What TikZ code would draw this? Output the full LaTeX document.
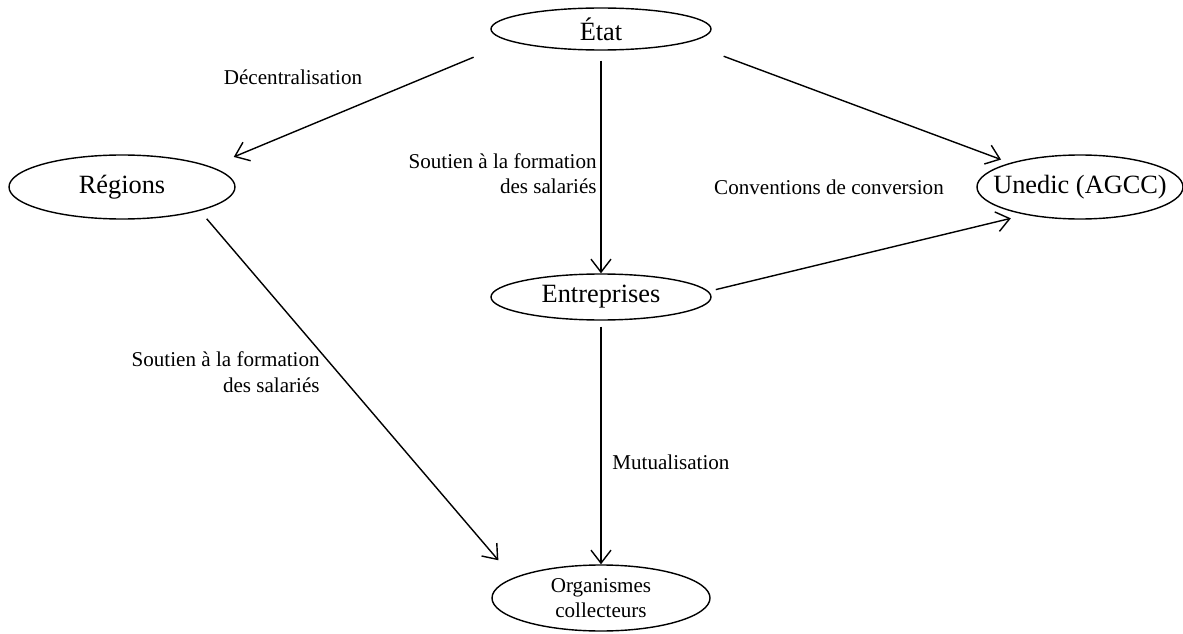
\documentclass[tikz,border=0pt]{standalone}
\usepackage{fontspec}
\setmainfont{Liberation Serif}
\usetikzlibrary{arrows.meta, positioning, shapes.geometric}

\begin{document}
\begin{tikzpicture}[
    actor/.style={draw, ellipse, line width=0.8pt, inner sep=0pt},
    link/.style={-{Straight Barb[length=2.6mm, width=4mm]}, line width=0.8pt},
    lbl/.style={font=\fontsize{12}{14.5}\selectfont, inner sep=0pt},
    every label/.style={font=\fontsize{15}{18}\selectfont, inner sep=0pt}
]
    \useasboundingbox (0,0) rectangle (23.66,12.66);

    % Actors
    \node[actor, minimum width=4.4cm, minimum height=0.84cm, label=center:{État}] (etat) at (12.02,12.08) {};
    \node[actor, minimum width=4.52cm, minimum height=1.28cm, label=center:{Régions}] (regions) at (2.44,8.92) {};
    \node[actor, minimum width=4.12cm, minimum height=1.28cm, label=center:{Unedic (AGCC)}] (unedic) at (21.6,8.92) {};
    \node[actor, minimum width=4.4cm, minimum height=0.92cm, label=center:{Entreprises}] (entreprises) at (12.02,6.72) {};
    \node[actor, minimum width=4.36cm, minimum height=1.32cm,
          label={[align=center, font=\fontsize{12}{14}\selectfont]center:{Organismes\\collecteurs}}] (organismes) at (12.02,0.70) {};

    % Flows
    \draw[link, shorten <=0.81cm, shorten >=0.5cm] (etat.188) -- (regions.13.6);
    \draw[link, shorten <=0.78cm, shorten >=0.19cm] (etat.351) -- (unedic.161);
    \draw[link, shorten <=0.2cm] (etat.south) -- (entreprises.north);
    \draw[link, shorten <=0.15cm, shorten >=0.3cm] (entreprises.3) -- (unedic.207);
    \draw[link, shorten <=0.21cm, shorten >=0.46cm] (regions.343.6) -- (organismes.167.7);
    \draw[link, shorten <=0.12cm] (entreprises.south) -- (organismes.north);

    % Labels
    \node[lbl] (decentr) at (5.86,11.12) {Décentralisation};
    \node[lbl, align=right, anchor=east] (soutienetat) at (11.94,9.19) {Soutien à la formation\\des salariés};
    \node[lbl] (conventions) at (16.58,8.92) {Conventions de conversion};
    \node[lbl, align=right, anchor=east] (soutienreg) at (6.4,5.22) {Soutien à la formation\\des salariés};
    \node[lbl, anchor=west] (mutual) at (12.24,3.42) {Mutualisation};
\end{tikzpicture}
\end{document}
